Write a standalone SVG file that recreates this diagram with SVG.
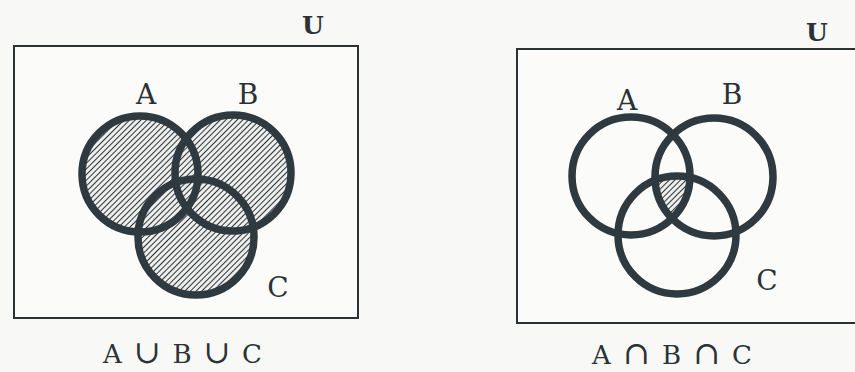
<svg xmlns="http://www.w3.org/2000/svg" width="855" height="372" viewBox="0 0 855 372">
<style>
.bg{fill:#f8f8f7}
.frame{fill:#fbfbfa;stroke:#2a3236;stroke-width:2}
.ring{fill:none;stroke:#2e3a40;stroke-width:7.5}
.lbl{font-family:"DejaVu Serif","Liberation Serif",serif;font-size:28px;fill:#2a3236;text-anchor:middle}
.u{font-family:"DejaVu Serif","Liberation Serif",serif;font-size:25px;font-weight:bold;fill:#2a3236;text-anchor:middle}
.cap{font-family:"DejaVu Serif","Liberation Serif",serif;font-size:26px;fill:#2a3236}
.op{font-size:32px}
</style>
<defs>
<pattern id="hatch" patternUnits="userSpaceOnUse" width="4" height="4" patternTransform="rotate(45)">
<rect width="4" height="4" fill="#eeeeec"/>
<line x1="0" y1="0" x2="0" y2="4" stroke="#2a3438" stroke-width="2"/>
</pattern>
<clipPath id="clipA2"><circle cx="631" cy="176" r="59"/></clipPath>
<clipPath id="clipB2"><circle cx="714" cy="177" r="59"/></clipPath>
</defs>
<rect class="bg" width="855" height="372"/>

<g id="union">
<rect class="frame" x="14" y="46" width="344" height="272"/>
<text class="u" x="313" y="34">U</text>
<g fill="url(#hatch)">
<circle cx="140" cy="174" r="58"/>
<circle cx="233" cy="173" r="58"/>
<circle cx="196" cy="237" r="58"/>
</g>
<circle class="ring" cx="140" cy="174" r="58"/>
<circle class="ring" cx="233" cy="173" r="58"/>
<circle class="ring" cx="196" cy="237" r="58"/>
<text class="lbl" x="146" y="104">A</text>
<text class="lbl" x="248" y="104">B</text>
<text class="lbl" x="278" y="297">C</text>
<text class="cap" x="103" y="363" textLength="159" lengthAdjust="spacing">A <tspan class="op">∪</tspan> B <tspan class="op">∪</tspan> C</text>
</g>

<g id="intersection">
<rect class="frame" x="517" y="49" width="345" height="274"/>
<text class="u" x="817" y="41">U</text>
<g clip-path="url(#clipA2)"><g clip-path="url(#clipB2)">
<circle cx="677" cy="235" r="59" fill="url(#hatch)"/>
</g></g>
<circle class="ring" cx="631" cy="176" r="59"/>
<circle class="ring" cx="714" cy="177" r="59"/>
<circle class="ring" cx="677" cy="235" r="59"/>
<text class="lbl" x="627" y="110">A</text>
<text class="lbl" x="732" y="104">B</text>
<text class="lbl" x="767" y="290">C</text>
<text class="cap" x="592" y="364" textLength="160" lengthAdjust="spacing">A <tspan class="op">∩</tspan> B <tspan class="op">∩</tspan> C</text>
</g>
</svg>
